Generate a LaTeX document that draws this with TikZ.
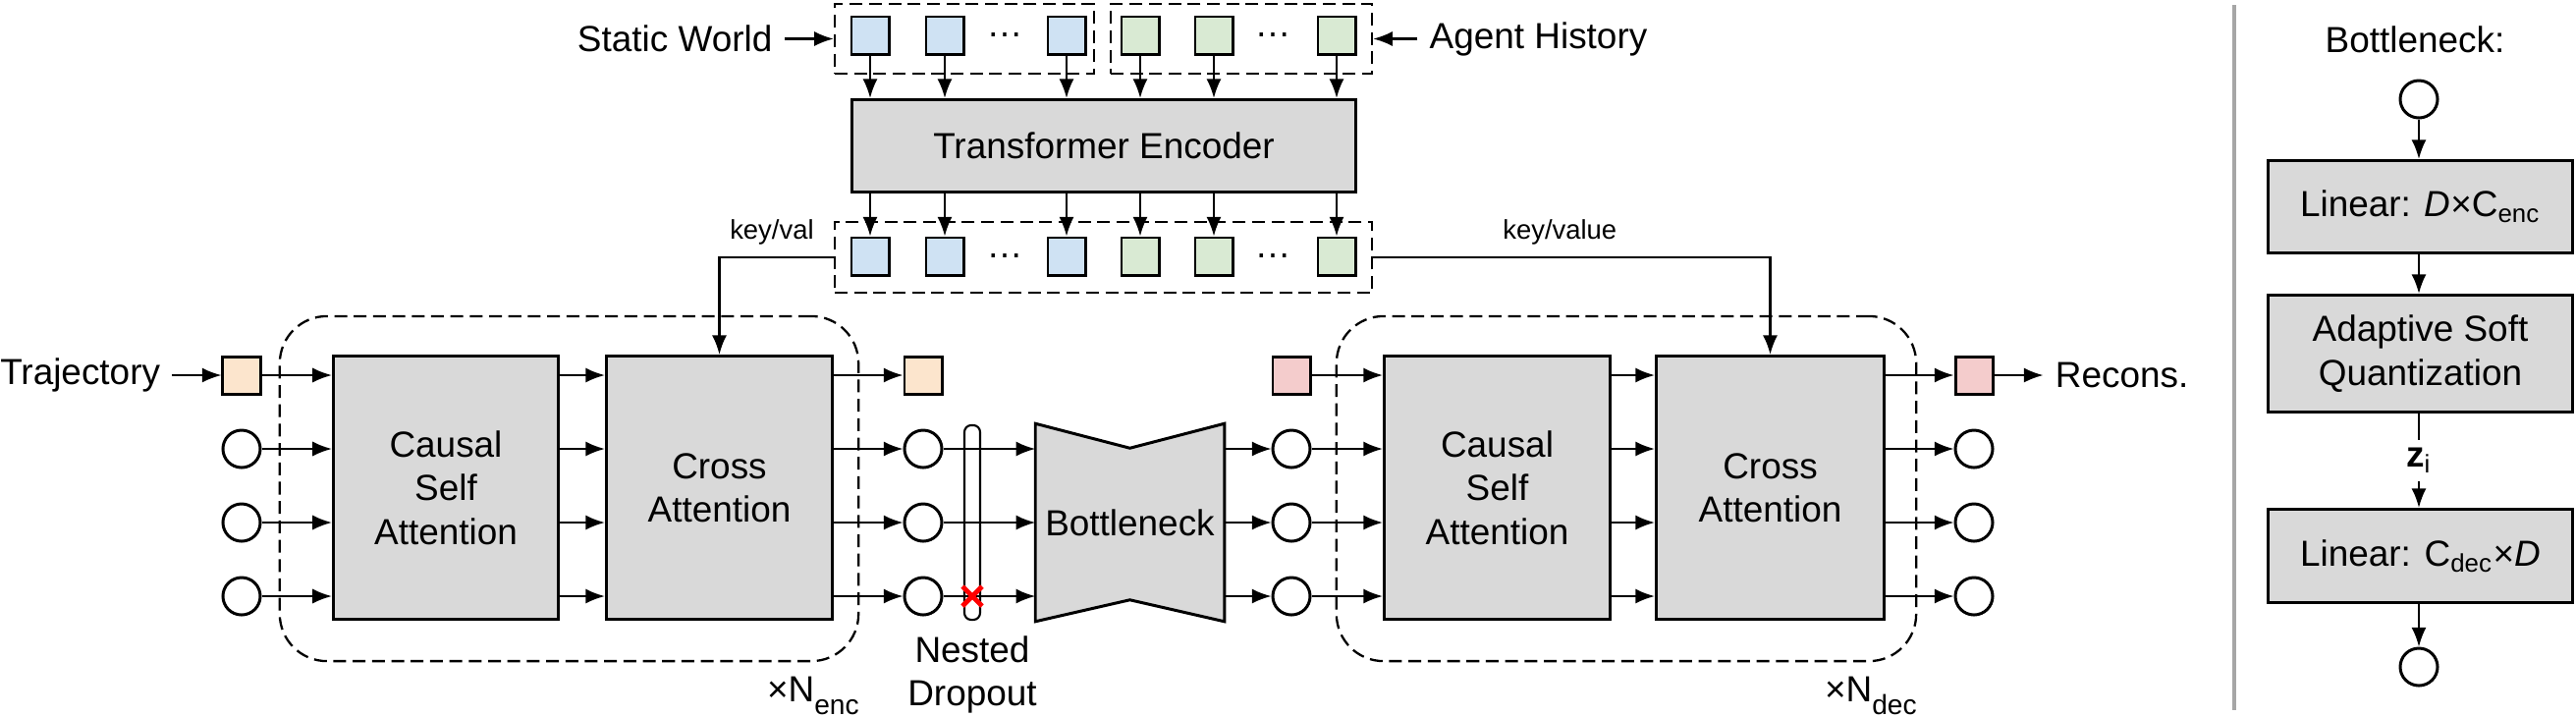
\documentclass[tikz,border=0pt]{standalone}
\usepackage{fontspec}
\setmainfont{Liberation Sans}
\usepackage{tikz}
\usetikzlibrary{shapes,arrows.meta,positioning,calc,fit,backgrounds}

\definecolor{boxgray}{HTML}{D9D9D9}
\definecolor{worldblue}{HTML}{CFE2F3}
\definecolor{agentgreen}{HTML}{D9EAD3}
\definecolor{trajorange}{HTML}{FCE5CD}
\definecolor{reconpink}{HTML}{F4CCCC}
\definecolor{sepgray}{HTML}{A6A6A6}

\begin{document}
\begin{tikzpicture}[
  x=0.01cm, y=-0.01cm,
  font=\fontsize{10.5}{12.6}\selectfont,
  block/.style={rectangle, draw, fill=boxgray, line width=0.85pt, align=center, inner sep=0pt},
  tok/.style={rectangle, draw, line width=0.85pt, minimum size=0.38cm, inner sep=0pt},
  emb/.style={circle, draw, line width=0.85pt, minimum size=0.38cm, inner sep=0pt},
  group/.style={rectangle, draw, line width=0.65pt, dash pattern=on 3.7pt off 1.9pt, inner sep=0pt},
  layer/.style={group, rounded corners=0.48cm},
  flow/.style={->, line width=0.6pt},
  small/.style={font=\fontsize{7.8}{9}\selectfont},
  >={Latex[length=5.6pt,width=4.3pt]}
]
  \useasboundingbox (0,0) rectangle (2623,729);

  % Scene tokens
  \foreach \x/\n in {886/1,962/2,1086/3} {
    \node[tok, fill=worldblue] (w\n) at (\x,36) {};
    \node[tok, fill=worldblue] (wk\n) at (\x,261) {};
  }
  \foreach \x/\n in {1161/1,1236/2,1361/3} {
    \node[tok, fill=agentgreen] (a\n) at (\x,36) {};
    \node[tok, fill=agentgreen] (ak\n) at (\x,261) {};
  }
  \foreach \x/\y/\n in {1023/36/1,1296/36/2,1023/261/3,1296/261/4}
    \node (dots\n) at (\x,\y) {\dots};

  \node[group, minimum width=2.64cm, minimum height=0.71cm] (wgrp) at (982,39.5) {};
  \node[group, minimum width=2.66cm, minimum height=0.71cm] (agrp) at (1264,39.5) {};
  \node[group, minimum width=5.47cm, minimum height=0.72cm] (kvgrp) at (1123.5,262) {};

  \node[left=0.5cm of wgrp] (world) {Static World};
  \node[right=0.45cm of agrp] (agents) {Agent History};
  \draw[flow] (world) -- (wgrp);
  \draw[flow] (agents) -- (agrp);

  % Scene encoder
  \node[block, minimum width=5.13cm, minimum height=0.94cm] (enc) at (1124,148.5) {Transformer Encoder};
  \foreach \t in {w1,w2,w3,a1,a2,a3}
    \draw[flow] (\t.south) -- (\t.south |- enc.north);
  \foreach \t in {wk1,wk2,wk3,ak1,ak2,ak3}
    \draw[flow] (enc.south -| \t) -- (\t.north);

  % Trajectory encoder
  \node[tok, fill=trajorange] (in0) at (246,382) {};
  \node[tok, fill=trajorange] (eo0) at (940,382) {};
  \foreach \y/\n in {457/1,532/2,607/3} {
    \node[emb] (in\n) at (246,\y) {};
    \node[emb] (eo\n) at (940,\y) {};
  }
  \node[left=0.5cm of in0] (traj) {Trajectory};
  \draw[flow] (traj) -- (in0);

  \node[layer, minimum width=5.89cm, minimum height=3.51cm] (enclayer) at (579.5,497.5) {};
  \node[block, minimum width=2.29cm, minimum height=2.68cm] (encsa) at (454,496.5) {Causal\\Self\\Attention};
  \node[block, minimum width=2.30cm, minimum height=2.68cm] (encca) at (732.5,496.5) {Cross\\Attention};
  \foreach \n in {0,...,3} {
    \draw[flow] (in\n) -- (in\n -| encsa.west);
    \draw[flow] (encsa.east |- in\n) -- (encca.west |- in\n);
    \draw[flow] (encca.east |- eo\n) -- (eo\n);
  }
  \node[below left=0.14cm and 0cm of enclayer.south east, inner sep=0pt] (nenc) {×N\raisebox{-0.35em}{\fontsize{8}{9}\selectfont enc}};

  % Dropout and bottleneck
  \node[tok, fill=reconpink] (di0) at (1315,382) {};
  \foreach \y/\n in {457/1,532/2,607/3}
    \node[emb] (di\n) at (1315,\y) {};
  \node[draw, line width=0.6pt, rounded corners=2pt, minimum width=0.16cm, minimum height=1.98cm, inner sep=0pt] (dbar) at (990,532) {};
  \node[below=0.15cm of dbar, align=center, inner sep=0pt] (ndlbl) {Nested\\Dropout};
  \node[minimum width=1.91cm, minimum height=2cm, inner sep=0pt] (bneck) at (1150.5,532) {Bottleneck};
  \begin{scope}[on background layer]
    \draw[fill=boxgray, line width=0.85pt] (bneck.north west) -- ($(bneck.north)+(0,25)$) -- (bneck.north east)
      -- (bneck.south east) -- ($(bneck.south)+(0,-22)$) -- (bneck.south west) -- cycle;
  \end{scope}
  \foreach \n in {1,2,3} {
    \draw[flow] (eo\n) -- (eo\n -| bneck.west);
    \draw[flow] (bneck.east |- di\n) -- (di\n);
  }
  \coordinate (drop) at (dbar |- eo3);
  \draw[red, line width=1.4pt] ($(drop)+(-10,-10)$) -- ($(drop)+(10,10)$) ($(drop)+(-10,10)$) -- ($(drop)+(10,-10)$);

  % Trajectory decoder
  \node[tok, fill=reconpink] (do0) at (2010,382) {};
  \foreach \y/\n in {457/1,532/2,607/3}
    \node[emb] (do\n) at (2010,\y) {};
  \node[layer, minimum width=5.90cm, minimum height=3.51cm] (declayer) at (1656,497.5) {};
  \node[block, minimum width=2.30cm, minimum height=2.68cm] (decsa) at (1524.5,496.5) {Causal\\Self\\Attention};
  \node[block, minimum width=2.32cm, minimum height=2.68cm] (decca) at (1802.5,496.5) {Cross\\Attention};
  \foreach \n in {0,...,3} {
    \draw[flow] (di\n) -- (di\n -| decsa.west);
    \draw[flow] (decsa.east |- di\n) -- (decca.west |- di\n);
    \draw[flow] (decca.east |- do\n) -- (do\n);
  }
  \node[right=0.5cm of do0] (recons) {Recons.};
  \draw[flow] (do0) -- (recons);
  \node[below left=0.14cm and 0cm of declayer.south east, inner sep=0pt] (ndec) {×N\raisebox{-0.35em}{\fontsize{8}{9}\selectfont dec}};

  % Key/value connections
  \draw[flow] (kvgrp.west) -| node[small, pos=0.27, above] {key/val} (encca.north);
  \draw[flow] (kvgrp.east) -| node[small, pos=0.235, above] {key/value} (decca.north);

  % Bottleneck detail
  \draw[sepgray, line width=1pt] (2275,5) -- (2275,723);
  \node (bnhead) at (2459,40) {Bottleneck:};
  \node[emb] (bnin) at (2463,101) {};
  \node[block, minimum width=3.10cm, minimum height=0.94cm] (lin1) at (2464.5,210.5) {Linear: \textit{D}×C\textsubscript{enc}};
  \node[block, minimum width=3.10cm, minimum height=1.19cm] (asq) at (2464.5,360) {Adaptive Soft\\Quantization};
  \node[block, minimum width=3.10cm, minimum height=0.95cm] (lin2) at (2464.5,566) {Linear: C\textsubscript{dec}×\textit{D}};
  \node[emb] (bnout) at (2463,679) {};
  \draw[flow] (bnin) -- (bnin |- lin1.north);
  \draw[flow] (lin1.south -| bnin) -- (asq.north -| bnin);
  \draw[flow] (asq.south -| bnin) -- node[fill=white, inner sep=2.5pt] {\textbf{z}\textsubscript{i}} (lin2.north -| bnin);
  \draw[flow] (lin2.south -| bnin) -- (bnout);

\end{tikzpicture}
\end{document}
